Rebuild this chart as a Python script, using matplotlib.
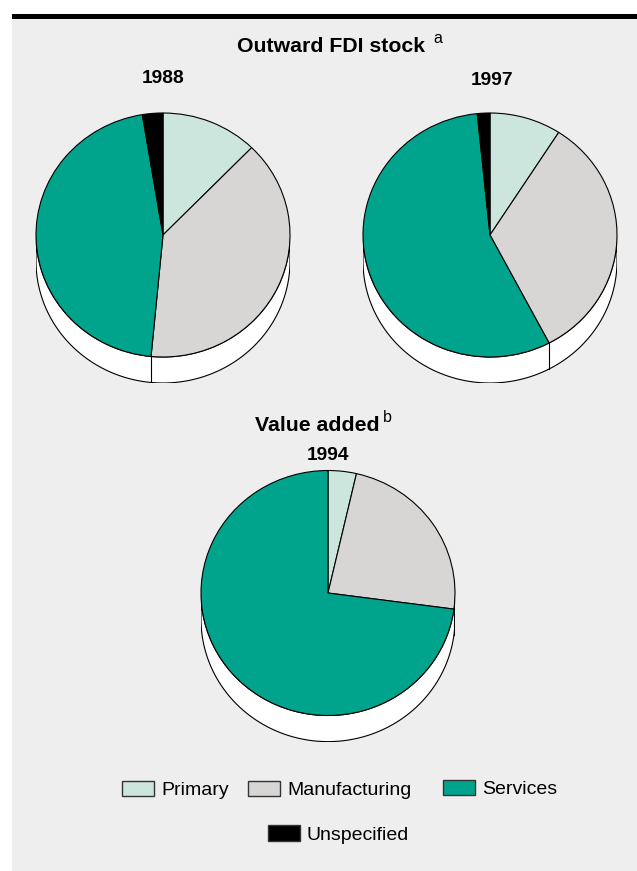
import numpy as np
import matplotlib.pyplot as plt
from matplotlib.patches import Patch, Rectangle

W, H = 637, 871

# data (shares in %)
labels = ['Primary', 'Manufacturing', 'Services', 'Unspecified']
colors = ['#cce6dd', '#d8d6d4', '#00a48c', '#000000']
fdi_1988 = [12.3, 39.2, 45.9, 2.6]
fdi_1997 = [9.1, 33.2, 56.1, 1.6]
va_1994 = [3.6, 23.5, 72.9]

plt.rcParams['font.family'] = ['Liberation Sans', 'DejaVu Sans']

fig = plt.figure(figsize=(W / 100, H / 100), dpi=100)
fig.patches.append(Rectangle((12 / W, 0), 1 - 12 / W, 1 - 19 / H, transform=fig.transFigure,
                             facecolor='#eeeeee', edgecolor='none', zorder=-10))
fig.patches.append(Rectangle((12 / W, 1 - 19 / H), 1 - 12 / W, 5 / H, transform=fig.transFigure,
                             facecolor='black', edgecolor='none', zorder=-10))

DEPTH = 26 / 122  # height of the side wall, in units of the vertical radius


def px(x, y):
    return x / W, 1 - y / H


def pie3d(values, cx, cy, rx, ry):
    d = DEPTH
    ax = fig.add_axes([(cx - rx) / W, 1 - (cy + ry * (1 + d)) / H, 2 * rx / W, ry * (2 + d) / H])
    ax.pie(values, colors=colors[:len(values)], startangle=90, counterclock=False,
           wedgeprops=dict(edgecolor='black', linewidth=0.8))
    ax.set_aspect('auto')
    ax.set_xlim(-1, 1)
    ax.set_ylim(-1 - d, 1)
    # white side wall under the front half
    t = np.linspace(np.pi, 2 * np.pi, 200)
    xs = np.concatenate([np.cos(t), np.cos(t[::-1])])
    ys = np.concatenate([np.sin(t), np.sin(t[::-1]) - d])
    ax.fill(xs, ys, facecolor='white', edgecolor='black', linewidth=0.8, zorder=0)
    # slice borders running down the wall
    bounds = 90 - 360 * np.cumsum(values) / np.sum(values)
    for b in bounds[:-1]:
        a = np.deg2rad(b)
        if np.sin(a) < 0:
            ax.plot([np.cos(a)] * 2, [np.sin(a), np.sin(a) - d], color='black', lw=0.8)
    ax.axis('off')
    return ax


pie3d(fdi_1988, 163, 235, 127, 122)
pie3d(fdi_1997, 490, 235, 127, 122)
pie3d(va_1994, 328, 593, 127, 122.5)

# titles
fig.text(*px(237, 52), 'Outward FDI stock', fontsize=15.3, fontweight='bold', ha='left', va='baseline')
fig.text(*px(433, 43), 'a', fontsize=11.5, ha='left', va='baseline')
fig.text(*px(255, 431), 'Value added', fontsize=15.3, fontweight='bold', ha='left', va='baseline')
fig.text(*px(383, 422), 'b', fontsize=11.5, ha='left', va='baseline')
fig.text(*px(163.5, 83), '1988', fontsize=13.8, fontweight='bold', ha='center', va='baseline')
fig.text(*px(492, 85), '1997', fontsize=13.8, fontweight='bold', ha='center', va='baseline')
fig.text(*px(327.5, 460), '1994', fontsize=13.8, fontweight='bold', ha='center', va='baseline')

# legend, one entry at a time to keep the original spacing
fs = 14
fpx = fs * 100 / 72
spots = [(122, 790), (248, 790), (443, 789), (268, 834.5)]
for lab, col, (x, y) in zip(labels, colors, spots):
    h = Patch(facecolor=col, edgecolor='#333333', linewidth=1)
    fig.legend(handles=[h], labels=[lab], loc='center left', bbox_to_anchor=px(x, y),
               frameon=False, borderpad=0, borderaxespad=0, fontsize=fs,
               handlelength=32 / fpx, handleheight=16 / fpx, handletextpad=7 / fpx)

fig.savefig('out.png', dpi=100)
